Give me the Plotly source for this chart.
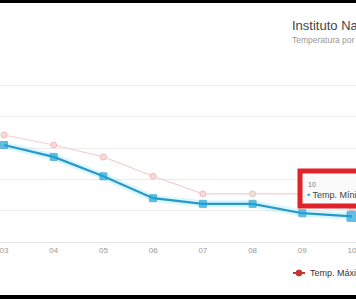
import plotly.graph_objects as go

# ---- data ----
categories = ["03", "04", "05", "06", "07", "08", "09", "10"]
temp_max = [17.1, 15.5, 13.6, 10.5, 7.7, 7.7, 7.7, 5.4]
temp_min = [15.5, 13.6, 10.5, 7.0, 6.1, 6.1, 4.6, 4.1]
title_text = "Instituto Nacional de Meteorología"
subtitle_text = "Temperatura por día"
hover_index = 7

W, H = 356, 299
T, B = 54, 57
PH = H - T - B


def px(x):
    return x / W


def py(y):
    return (H - B - y) / PH


FONT = "Liberation Sans, Arial, sans-serif"
idx = list(range(len(categories)))

fig = go.Figure()

# max series (faded)
max_marker_colors = ["#f3b9bd"] * len(categories)
max_marker_colors[5] = "#c9d9b4"
fig.add_trace(go.Scatter(
    x=idx, y=temp_max, mode="lines+markers", name="Temp. Máxima",
    line=dict(color="#f4cfd0", width=1.2),
    marker=dict(symbol="circle", size=6, color="#f8dada",
                line=dict(color=max_marker_colors, width=1)),
    showlegend=False, hoverinfo="skip"))

# glow of the emphasised min series
fig.add_trace(go.Scatter(
    x=idx, y=temp_min, mode="lines",
    line=dict(color="rgba(60,215,240,0.2)", width=7),
    showlegend=False, hoverinfo="skip"))

sizes = [7] * len(categories)
sizes[hover_index] = 10
fig.add_trace(go.Scatter(
    x=idx, y=temp_min, mode="lines+markers", name="Temp. Mínima",
    line=dict(color="#2a98c6", width=2.2),
    marker=dict(symbol="square", size=sizes, color="#1ea8dc"),
    showlegend=False))

shapes = [
    # tooltip box
    dict(type="rect", xref="paper", yref="paper",
         x0=px(300), x1=px(370), y0=py(206), y1=py(171),
         fillcolor="rgba(250,250,250,0.95)",
         line=dict(color="#e0232b", width=5), layer="above"),
    # legend icon
    dict(type="line", xref="paper", yref="paper",
         x0=px(293), x1=px(305), y0=py(273), y1=py(273),
         line=dict(color="#c23531", width=2), layer="above"),
    dict(type="circle", xref="paper", yref="paper",
         x0=px(296), x1=px(302), y0=py(276), y1=py(270),
         fillcolor="#c23531", line=dict(color="#c23531", width=1), layer="above"),
    # black bands from screenshot borders
    dict(type="rect", xref="paper", yref="paper",
         x0=-0.1, x1=1.1, y0=py(3), y1=py(-10),
         fillcolor="black", line=dict(width=0), layer="above"),
    dict(type="rect", xref="paper", yref="paper",
         x0=-0.1, x1=1.1, y0=py(310), y1=py(295),
         fillcolor="black", line=dict(width=0), layer="above"),
]

annotations = [
    dict(text=title_text, xref="paper", yref="paper", x=px(290), y=py(26),
         xanchor="left", yanchor="middle", showarrow=False,
         font=dict(family=FONT, size=13, color="#444")),
    dict(text=subtitle_text, xref="paper", yref="paper", x=px(290), y=py(40),
         xanchor="left", yanchor="middle", showarrow=False,
         font=dict(family=FONT, size=8.5, color="#999")),
    dict(text=categories[hover_index], xref="paper", yref="paper", x=px(306), y=py(184),
         xanchor="left", yanchor="middle", showarrow=False,
         font=dict(family=FONT, size=7, color="#777")),
    dict(text="<span style='color:#1ea8dc'>•</span> Temp. Mínima: %s" % temp_min[hover_index],
         xref="paper", yref="paper", x=px(305), y=py(195),
         xanchor="left", yanchor="middle", showarrow=False,
         font=dict(family=FONT, size=9, color="#444")),
    dict(text="Temp. Máxima", xref="paper", yref="paper", x=px(308), y=py(273),
         xanchor="left", yanchor="middle", showarrow=False,
         font=dict(family=FONT, size=9, color="#333")),
]

fig.update_layout(
    width=W, height=H,
    margin=dict(l=0, r=0, t=T, b=B, pad=0),
    paper_bgcolor="white", plot_bgcolor="white",
    showlegend=False,
    shapes=shapes, annotations=annotations,
    xaxis=dict(range=[-0.08, 7.08], tickmode="array", tickvals=idx, ticktext=categories,
               showgrid=False, zeroline=False, showline=True, linecolor="#e6e6e6",
               linewidth=1, ticks="", ticklabeloverflow="allow",
               tickfont=dict(family=FONT, size=8, color="#999")),
    yaxis=dict(range=[0, 30.05], dtick=5, showgrid=True, gridcolor="#ececec",
               gridwidth=1, zeroline=False, showticklabels=False, ticks=""),
)

fig.write_html("out.html")
